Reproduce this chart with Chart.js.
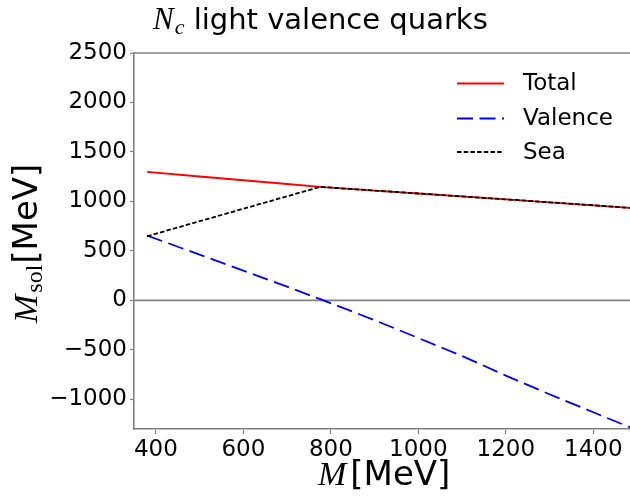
<!DOCTYPE html>
<html>
<head>
<meta charset="utf-8">
<script src="https://cdn.jsdelivr.net/npm/chart.js@4/dist/chart.umd.min.js"></script>
<style>
  html, body { margin: 0; padding: 0; background: #fff; }
</style>
</head>
<body>
<canvas id="myChart" width="630" height="497"></canvas>
<script>
// values
var massMeV    = [380, 500, 600, 700, 776, 900, 1000, 1100, 1200, 1300, 1400, 1500];
var totalMeV   = [1298, 1252, 1214, 1176, 1147, 1110, 1080, 1050, 1021, 991, 961, 929];
var valenceMeV = [655, 462, 300, 138, 12, -200, -380, -562, -760, -949, -1131, -1312];
var seaMeV     = [648, 800, 926, 1052, 1147, 1110, 1080, 1050, 1021, 991, 961, 929];

var xTicks = [400, 600, 800, 1000, 1200, 1400];
var yTicks = [-1000, -500, 0, 500, 1000, 1500, 2000, 2500];

var spineColor = "#808080";
var sans = '"DejaVu Sans"';
var serif = '"Liberation Serif"';

function pts(ys) {
  return massMeV.map(function (m, i) { return { x: m, y: ys[i] }; });
}

function fmt(v) {
  return v < 0 ? "\u2212" + Math.abs(v) : String(v);
}

// draws a row of text pieces (for the mixed math / text labels)
function drawRuns(ctx, runs, x, y) {
  ctx.textAlign = "left";
  ctx.textBaseline = "alphabetic";
  runs.forEach(function (r) {
    ctx.font = r.font;
    ctx.fillText(r.t, x + (r.dx || 0), y + (r.dy || 0));
    x += ctx.measureText(r.t).width + (r.dx || 0) + (r.after || 0);
  });
}

var decor = {
  id: "decor",
  beforeDatasetsDraw: function (chart) {
    var ctx = chart.ctx, a = chart.chartArea;
    var y0 = chart.scales.y.getPixelForValue(0);
    ctx.save();
    ctx.strokeStyle = spineColor;
    ctx.lineWidth = 1.6;
    ctx.beginPath();
    ctx.moveTo(a.left, y0); ctx.lineTo(a.right, y0);
    ctx.moveTo(a.left, a.top); ctx.lineTo(a.right, a.top);
    ctx.stroke();
    ctx.restore();
  },
  afterDraw: function (chart) {
    var ctx = chart.ctx;
    ctx.save();
    ctx.fillStyle = "#000";

    // title
    drawRuns(ctx, [
      { t: "N", font: "italic 31px " + serif, after: 1 },
      { t: "c", font: "italic 22px " + serif, dy: 5 },
      { t: " light valence quarks", font: "29px " + sans }
    ], 153, 29);

    // x axis title
    drawRuns(ctx, [
      { t: "M", font: "italic 34px " + serif, after: 4 },
      { t: "[MeV]", font: "34px " + sans }
    ], 318, 485);

    // y axis title
    ctx.save();
    ctx.translate(37, 323);
    ctx.rotate(-Math.PI / 2);
    drawRuns(ctx, [
      { t: "M", font: "italic 34px " + serif, after: 2 },
      { t: "sol", font: "24px " + serif, dy: 5, after: 1 },
      { t: "[MeV]", font: "34px " + sans }
    ], 0, 0);
    ctx.restore();

    // legend
    var rows = [83.5, 118.5, 152];
    chart.data.datasets.forEach(function (ds, i) {
      var y = rows[i];
      ctx.strokeStyle = ds.borderColor;
      ctx.lineWidth = ds.borderWidth;
      ctx.setLineDash(ds.borderDash || []);
      ctx.beginPath();
      ctx.moveTo(457, y); ctx.lineTo(504, y);
      ctx.stroke();
      ctx.setLineDash([]);
      ctx.font = "23px " + sans;
      ctx.textBaseline = "middle";
      ctx.fillText(ds.label, 523, y + 1);
    });
    ctx.restore();
  }
};

var c = new Chart("myChart", {
  type: "line",
  data: {
    datasets: [
      { label: "Total", data: pts(totalMeV), borderColor: "#ff0000", borderWidth: 1.8, order: 2 },
      { label: "Valence", data: pts(valenceMeV), borderColor: "#0000ff", borderWidth: 1.8, borderDash: [16, 6.5], order: 1 },
      { label: "Sea", data: pts(seaMeV), borderColor: "#000000", borderWidth: 1.8, borderDash: [4.5, 2.2], order: 0 }
    ]
  },
  options: {
    responsive: false,
    animation: false,
    devicePixelRatio: 1,
    layout: { padding: { top: 53, left: 0, right: 0, bottom: 0 } },
    elements: { point: { radius: 0 }, line: { tension: 0 } },
    plugins: { legend: { display: false }, tooltip: { enabled: false }, title: { display: false } },
    scales: {
      x: {
        type: "linear",
        min: 350,
        max: 1484,
        afterBuildTicks: function (s) { s.ticks = xTicks.map(function (v) { return { value: v }; }); },
        afterFit: function (s) { s.height = 68; s.paddingLeft = 0; s.paddingRight = 0; },
        ticks: { color: "#000", font: { family: "DejaVu Sans", size: 23 }, padding: 2, maxRotation: 0, callback: fmt },
        grid: { display: true, drawOnChartArea: false, color: spineColor, tickLength: 5, tickWidth: 1.2 },
        border: { display: true, color: spineColor, width: 1.6 }
      },
      y: {
        type: "linear",
        min: -1300,
        max: 2500,
        afterBuildTicks: function (s) { s.ticks = yTicks.map(function (v) { return { value: v }; }); },
        afterFit: function (s) { s.width = 134; s.paddingTop = 0; s.paddingBottom = 0; },
        ticks: { color: "#000", font: { family: "DejaVu Sans", size: 23 }, padding: 3, callback: fmt },
        grid: { display: true, drawOnChartArea: false, color: spineColor, tickLength: 4, tickWidth: 1.2 },
        border: { display: true, color: spineColor, width: 1.6 }
      }
    }
  },
  plugins: [decor]
});
</script>
</body>
</html>
